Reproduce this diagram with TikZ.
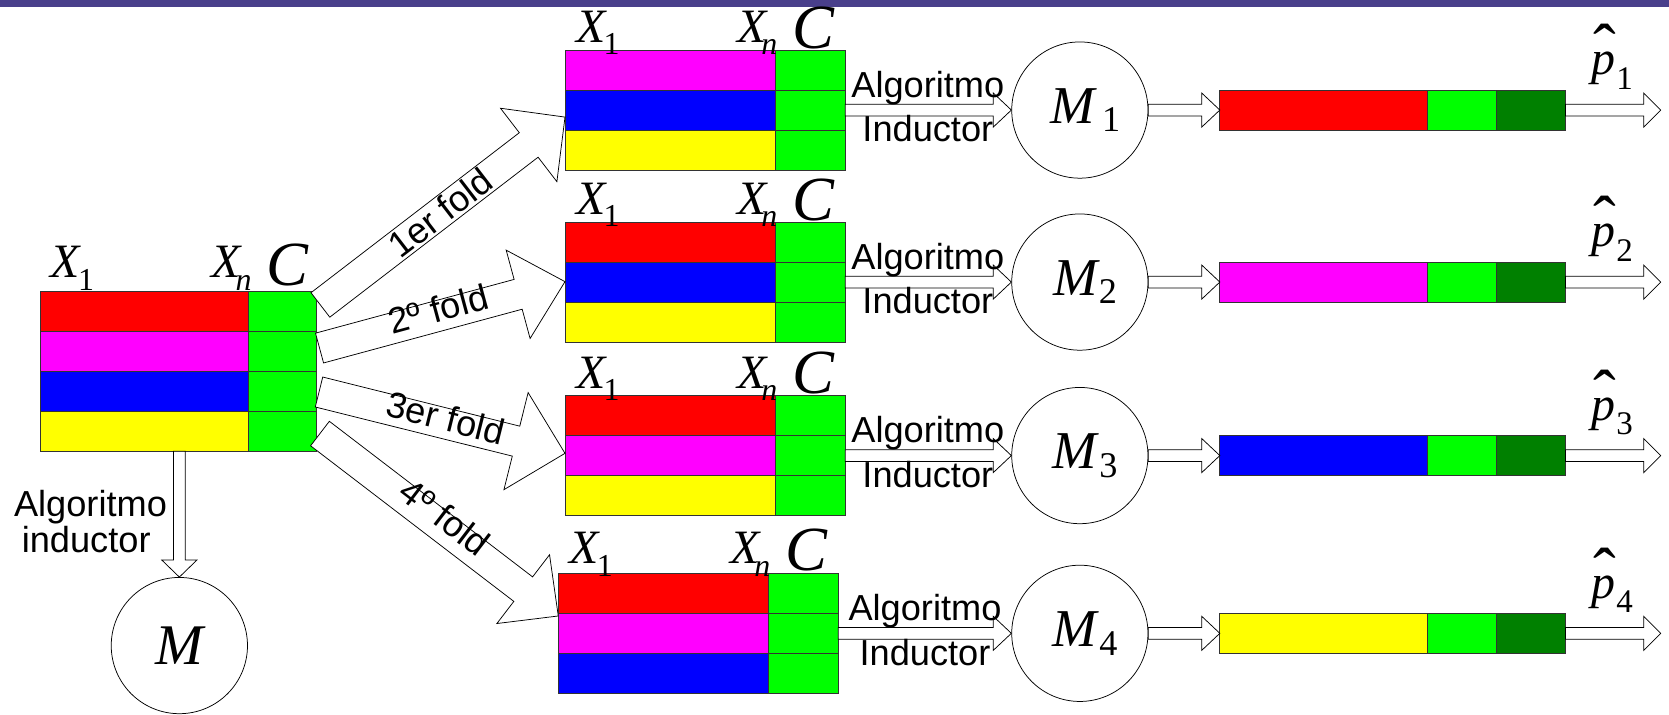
\documentclass[tikz,border=0pt]{standalone}
\usepackage{fontspec}
\setmainfont{Liberation Sans}
\newfontfamily\tnr{Liberation Serif}
\usetikzlibrary{calc}

\definecolor{bandpurple}{RGB}{73,63,139}
\definecolor{clsgreen}{RGB}{0,255,0}
\definecolor{probgreen}{RGB}{0,128,0}
\definecolor{rowred}{RGB}{255,0,0}
\definecolor{rowmag}{RGB}{255,0,255}
\definecolor{rowblue}{RGB}{0,0,255}
\definecolor{rowyel}{RGB}{255,255,0}

% text fonts
\newcommand\lblfont{\fontsize{34}{34}\selectfont}
\newcommand\attrfirst{{\tnr\fontsize{45}{45}\selectfont\itshape X}\kern-2pt\raisebox{-11.5pt}{\tnr\fontsize{30}{30}\selectfont 1}}
\newcommand\attrlast{{\tnr\fontsize{45}{45}\selectfont\itshape X}\kern-5pt\raisebox{-11.5pt}{\tnr\fontsize{30}{30}\selectfont\itshape n}}
\newcommand\classvar{{\tnr\fontsize{59}{59}\selectfont\itshape C}}
\newcommand\modelvar[2]{\kern10pt{\tnr\fontsize{50}{50}\selectfont\itshape M}\kern#2\raisebox{-8pt}{\tnr\fontsize{34}{34}\selectfont #1}}
\newcommand\probvar[1]{\rlap{\kern1pt\raisebox{3pt}{\tnr\fontsize{64}{64}\selectfont ˆ}}{\tnr\fontsize{45}{45}\selectfont\itshape p}\kern0.5pt\raisebox{-13.5pt}{\tnr\fontsize{31}{31}\selectfont #1}}

\tikzset{
  cellbox/.style={draw=black!80, line width=0.7pt, minimum height=37.5pt,
    inner sep=0pt, outer sep=0pt, anchor=north west},
  barbox/.style={draw=black!80, line width=0.7pt, minimum height=37.5pt,
    inner sep=0pt, outer sep=0pt, anchor=west},
  hdr/.style={anchor=base west, inner sep=0pt},
  lbl/.style={font=\lblfont, inner sep=0pt},
  model/.style={circle, draw=black, line width=0.7pt, minimum size=128pt,
    inner sep=0pt},
  arrowbody/.style={draw=black, fill=white, line width=0.7pt, line join=miter},
}

% a data table: name, x0, top, attribute width, class width, row colours
\newcommand\datatable[6]{%
  \foreach \c [count=\i] in {#6} {
    \node[cellbox, fill=\c, minimum width=#4pt] (#1a\i) at (#2, {#3+(\i-1)*37.5}) {};
    \node[cellbox, fill=clsgreen, minimum width=#5pt] (#1c\i) at ({#2+#4}, {#3+(\i-1)*37.5}) {};
  }%
}
% column headings of a table: name, x0, top, drop of X baseline, drop of C baseline
\newcommand\heads[5]{%
  \node[hdr] (#1h1) at ({#2+10}, {#3-#4}) {\attrfirst};
  \node[hdr] (#1hn) at ({#2+161}, {#3-#4}) {\attrlast};
  \node[hdr] (#1hc) at ({#2+213}, {#3-#5}) {\classvar};
}
% block arrow: from, to, half shaft width, half head width, head length
\newcommand\fatarrow[5]{%
  \coordinate (neck) at ($(#2)!#5!(#1)$);
  \draw[arrowbody] ($(#1)!#3!90:(#2)$) -- ($(neck)!#3!-90:(#1)$)
    -- ($(neck)!#4!-90:(#1)$) -- (#2) -- ($(neck)!#4!90:(#1)$)
    -- ($(neck)!#3!90:(#1)$) -- ($(#1)!#3!-90:(#2)$) -- cycle;
}

\begin{document}
\begin{tikzpicture}[x=1pt, y=-1pt]
\useasboundingbox (0,0) rectangle (1568,671);
\fill[bandpurple] (0,0) rectangle (1568,6.5);

% full data set
\datatable{L}{37.6}{274}{195.7}{64.2}{rowred,rowmag,rowblue,rowyel}
\heads{L}{37.6}{274}{13}{6}

% training folds
\datatable{Fa}{531.5}{47.15}{196.5}{66}{rowmag,rowblue,rowyel}
\datatable{Fb}{531.5}{208.75}{196.5}{66}{rowred,rowblue,rowyel}
\datatable{Fc}{531.5}{371.75}{196.5}{66}{rowred,rowmag,rowyel}
\datatable{Fd}{525}{538.75}{196.5}{66}{rowred,rowmag,rowblue}
\heads{Fa}{531.5}{47.15}{7}{2}
\heads{Fb}{531.5}{208.75}{7}{2}
\heads{Fc}{531.5}{371.75}{7}{2}
\heads{Fd}{525}{538.75}{9}{3}

% models
\node[model, minimum size=128pt] (M) at (168.5,606.5) {{\tnr\fontsize{54}{54}\selectfont\itshape M}};
\node[model] (M1) at (1014.5,103.4) {\modelvar{1}{7pt}};
\node[model] (M2) at (1014.5,265) {\modelvar{2}{1pt}};
\node[model] (M3) at (1014.5,428) {\modelvar{3}{2pt}};
\node[model] (M4) at (1014.5,595) {\modelvar{4}{2pt}};

% predictions on the held-out part
\foreach \k/\y/\c in {1/103.4/rowred, 2/265/rowmag, 3/428/rowblue, 4/595/rowyel} {
  \node[barbox, fill=\c, minimum width=195pt] (B\k a) at (1146,\y) {};
  \node[barbox, fill=clsgreen, minimum width=64.7pt] (B\k b) at (B\k a.east) {};
  \node[barbox, fill=probgreen, minimum width=65.1pt] (B\k c) at (B\k b.east) {};
  \coordinate (out\k) at (1560.2,\y);
}

% fold arrows
\coordinate (fa1s) at (301,286.5);   \coordinate (fa1e) at (530.8,110);
\coordinate (fa2s) at (300.2,327);   \coordinate (fa2e) at (530.8,264.6);
\coordinate (fa3s) at (299.7,368.3); \coordinate (fa3e) at (530.8,425.9);
\coordinate (fa4s) at (300.6,407.3); \coordinate (fa4e) at (524.5,578.7);
\fatarrow{fa1s}{fa1e}{14.5pt}{43.5pt}{43pt}
\fatarrow{fa2s}{fa2e}{14.5pt}{43pt}{45.6pt}
\fatarrow{fa3s}{fa3e}{14.5pt}{47pt}{47.4pt}
\fatarrow{fa4s}{fa4e}{14.5pt}{40.7pt}{41.5pt}
\path (fa1s) -- (fa1e) node[lbl, sloped, pos=0.49, above=-12.5pt] (fl1) {1er fold};
\path (fa2s) -- (fa2e) node[lbl, sloped, pos=0.49, above=-6.5pt] (fl2) {2º fold};
\path (fa3s) -- (fa3e) node[lbl, sloped, pos=0.51, above=-7.5pt] (fl3) {3er fold};
\path (fa4s) -- (fa4e) node[lbl, sloped, pos=0.5, above=-3.5pt] (fl4) {4º fold};

% learning on the full set
\coordinate (dn) at (La4.south -| M.north);
\fatarrow{dn}{M.north}{5.5pt}{16.5pt}{16pt}
\node[lbl, anchor=base] (algL) at (85,485) {Algoritmo};
\node[lbl, anchor=base] (indL) at (81,519.5) {inductor};

% learning on each fold, then predicting
\foreach \k/\t/\x in {1/a/871.7, 2/b/871.7, 3/c/871.7, 4/d/869} {
  \fatarrow{F\t c2.east}{M\k.west}{5.5pt}{16pt}{17pt}
  \fatarrow{M\k.east}{B\k a.west}{5.5pt}{16pt}{17pt}
  \fatarrow{B\k c.east}{out\k}{5.5pt}{16pt}{16pt}
  \path (M\k.west) ++(0,-11.9) coordinate (ta\k) ++(0,41.7) coordinate (tb\k);
  \node[lbl, anchor=base] (alg\k) at (ta\k -| \x,0) {Algoritmo};
  \node[lbl, anchor=base] (ind\k) at (tb\k -| \x,0) {Inductor};
  \node[hdr] (p\k) at ($(out\k)+(-64.8,-33)$) {\probvar{\k}};
}
\end{tikzpicture}
\end{document}
